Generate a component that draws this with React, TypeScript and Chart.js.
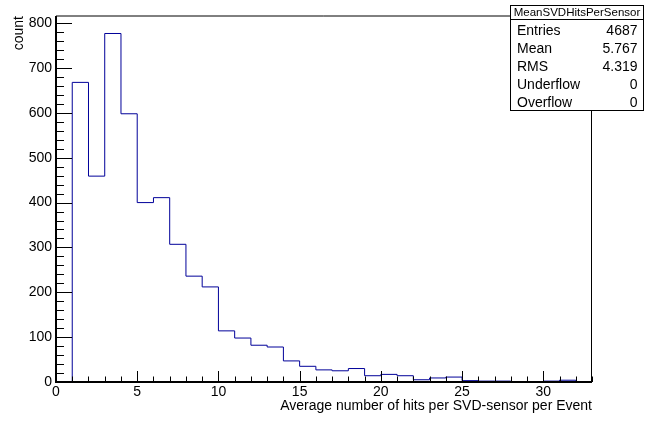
import React, { useEffect, useRef } from 'react';
import { Chart, registerables } from 'chart.js';

Chart.register(...registerables);

// Histogram bins (lower edges, width 1) and counts
const binLowEdges = [0, 1, 2, 3, 4, 5, 6, 7, 8, 9, 10, 11, 12, 13, 14, 15, 16, 17, 18, 19, 20, 21, 22, 23, 24, 25, 26, 27, 28, 29, 30, 31, 32];
const counts = [0, 668, 459, 777, 598, 400, 411, 307, 236, 212, 114, 98, 82, 78, 47, 35, 27, 25, 30, 14, 17, 14, 5, 9, 11, 3, 2, 2, 0, 0, 2, 4, 1];
const xMin = 0;
const xMax = 33;
const yMin = 0;
const yMax = 816;

// Axis ticks
const xMajorStep = 5;
const xMinorStep = 1;
const yMajorStep = 100;
const yMinorStep = 20;

// Texts
const histTitle = 'MeanSVDHitsPerSensor';
const statLabels = ['Entries', 'Mean', 'RMS', 'Underflow', 'Overflow'];
const statValues = ['4687', '5.767', '4.319', '0', '0'];
const xTitle = 'Average number of hits per SVD-sensor per Event';
const yTitle = 'count';

const FONT = '"Liberation Sans", Arial, Helvetica, sans-serif';

const rootPlugin = {
  id: 'rootStyle',
  afterDraw(chart: any) {
    const { ctx, chartArea } = chart;
    const { left, right, top, bottom } = chartArea;
    const xs = chart.scales.x;
    const ys = chart.scales.y;
    ctx.save();
    // frame top and right
    ctx.strokeStyle = '#000';
    ctx.lineWidth = 1;
    ctx.beginPath();
    ctx.moveTo(left, top);
    ctx.lineTo(right - 0.5, top);
    ctx.stroke();
    ctx.beginPath();
    ctx.moveTo(right - 0.5, top);
    ctx.lineTo(right - 0.5, bottom);
    ctx.stroke();
    // axes
    ctx.lineWidth = 2;
    ctx.beginPath();
    ctx.moveTo(left, top);
    ctx.lineTo(left, bottom);
    ctx.lineTo(right, bottom);
    ctx.stroke();
    // ticks
    ctx.lineWidth = 1;
    ctx.beginPath();
    for (let v = xMin; v <= xMax + 1e-9; v += xMinorStep) {
      const px = Math.round(xs.getPixelForValue(v)) + 0.5;
      const len = Math.abs(v % xMajorStep) < 1e-9 ? 11 : 5.5;
      ctx.moveTo(px, bottom);
      ctx.lineTo(px, bottom - len);
    }
    for (let v = yMin; v <= yMax + 1e-9; v += yMinorStep) {
      const py = Math.round(ys.getPixelForValue(v)) + 0.5;
      const len = Math.abs(v % yMajorStep) < 1e-9 ? 16 : 8;
      ctx.moveTo(left, py);
      ctx.lineTo(left + len, py);
    }
    ctx.stroke();

    // stats box
    const bx = 510.5, by = 5.5, bw = 133, bh = 105;
    ctx.fillStyle = '#fff';
    ctx.fillRect(bx, by, bw, bh);
    ctx.strokeStyle = '#000';
    ctx.lineWidth = 1;
    ctx.strokeRect(bx, by, bw, bh);
    ctx.beginPath();
    ctx.moveTo(bx, 19.5);
    ctx.lineTo(bx + bw, 19.5);
    ctx.stroke();
    ctx.fillStyle = '#000';
    ctx.font = `11.5px ${FONT}`;
    ctx.textAlign = 'center';
    ctx.textBaseline = 'alphabetic';
    ctx.fillText(histTitle, bx + bw / 2, 16);
    ctx.font = `14px ${FONT}`;
    statLabels.forEach((lab, i) => {
      const yb = 34.5 + i * 18.05;
      ctx.textAlign = 'left';
      ctx.fillText(lab, 517, yb);
      ctx.textAlign = 'right';
      ctx.fillText(statValues[i], 637.5, yb);
    });
    ctx.restore();
  },
};

export default function App() {
  const ref = useRef<HTMLCanvasElement | null>(null);
  useEffect(() => {
    if (!ref.current) return;
    const points = binLowEdges.map((x, i) => ({ x, y: counts[i] }));
    points.push({ x: xMax, y: counts[counts.length - 1] });
    const chart = new Chart(ref.current, {
      type: 'line',
      data: {
        datasets: [
          {
            data: points,
            borderColor: '#000099',
            borderWidth: 1,
            pointRadius: 0,
            fill: false,
            stepped: true,
            tension: 0,
          },
        ],
      },
      options: {
        animation: false,
        responsive: false,
        maintainAspectRatio: false,
        layout: { padding: { top: 16, right: 70, left: 0, bottom: 0 } },
        plugins: { legend: { display: false }, tooltip: { enabled: false } },
        scales: {
          x: {
            type: 'linear',
            min: xMin,
            max: xMax,
            grid: { display: false, drawTicks: false },
            border: { display: false },
            ticks: {
              stepSize: xMajorStep,
              includeBounds: false,
              color: '#000',
              padding: 2,
              maxRotation: 0,
              autoSkip: false,
              font: { family: FONT, size: 14 },
            },
            title: {
              display: true,
              text: xTitle,
              align: 'end',
              color: '#000',
              font: { family: FONT, size: 14 },
              padding: { top: 0, bottom: 7 },
            },
            afterFit(scale: any) {
              scale.height = 40;
            },
          },
          y: {
            type: 'linear',
            min: yMin,
            max: yMax,
            grid: { display: false, drawTicks: false },
            border: { display: false },
            ticks: {
              stepSize: yMajorStep,
              includeBounds: false,
              color: '#000',
              padding: 4,
              font: { family: FONT, size: 14 },
            },
            title: {
              display: true,
              text: yTitle,
              align: 'end',
              color: '#000',
              font: { family: FONT, size: 14 },
              padding: { top: 10.6, bottom: 0 },
            },
            afterFit(scale: any) {
              scale.width = 56;
            },
          },
        },
      },
      plugins: [rootPlugin],
    });
    return () => chart.destroy();
  }, []);
  return (
    <div style={{ position: 'fixed', left: 0, top: 0, width: 662, height: 422, background: '#fff' }}>
      <canvas ref={ref} width={662} height={422} style={{ display: 'block', width: 662, height: 422 }} />
    </div>
  );
}
